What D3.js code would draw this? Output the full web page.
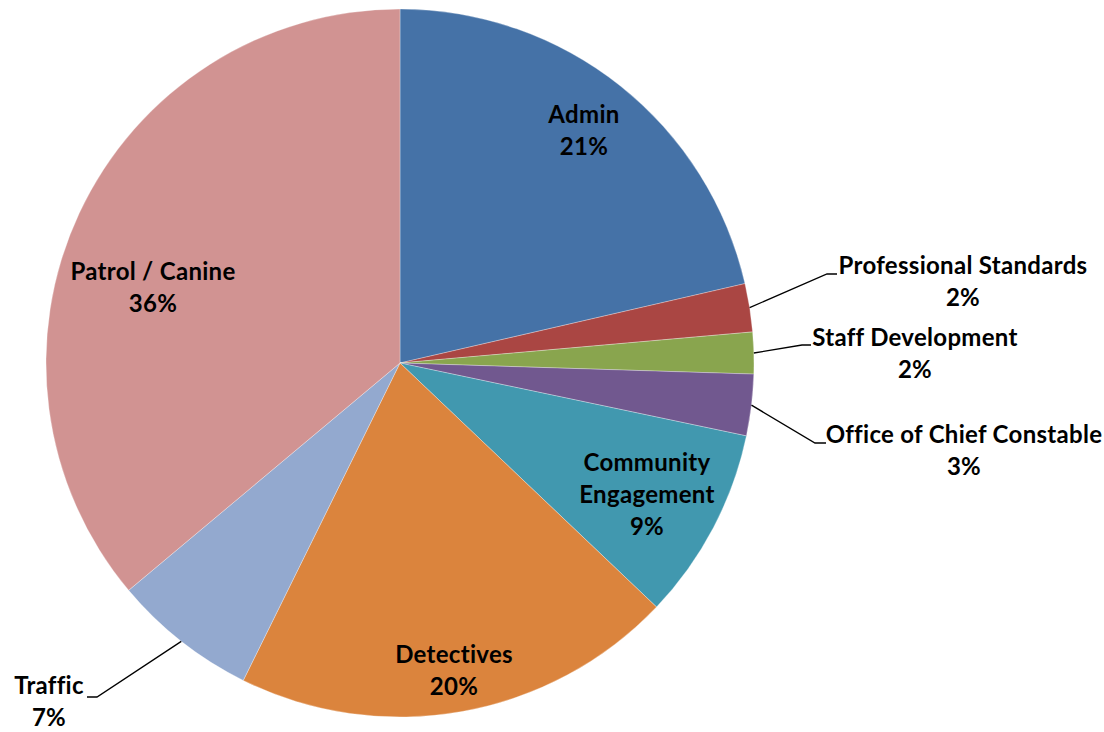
<!DOCTYPE html>
<html>
<head>
<meta charset="utf-8">
<script src="https://cdn.jsdelivr.net/npm/d3@7/dist/d3.min.js"></script>
<style>
  body { margin: 0; background: #fff; }
  text { font-family: Lato, "Open Sans", sans-serif; font-weight: bold; font-size: 24px; letter-spacing: 0.3px; fill: #000; }
</style>
</head>
<body>
<script>
  // slice data, clockwise from 12 o'clock
  const names = ["Admin", "Professional Standards", "Staff Development", "Office of Chief Constable",
                 "Community Engagement", "Detectives", "Traffic", "Patrol / Canine"];
  const shares = [21.4, 2.2, 1.9, 2.8, 8.8, 20.2, 6.6, 36.1];
  const pctLabels = ["21%", "2%", "2%", "3%", "9%", "20%", "7%", "36%"];
  const colors = ["#4572A7", "#AA4643", "#89A54E", "#71588F", "#4198AF", "#DB843D", "#93A9CF", "#D19392"];

  const width = 1104, height = 732;
  const cx = 400, cy = 363, radius = 354;

  // label placement (text block centre, line breaks) and leader elbows for outside labels
  const labelLayout = {
    "Admin": {x: 584, y: 131, lines: ["Admin"]},
    "Professional Standards": {x: 963, y: 282, lines: ["Professional Standards"], elbow: [827, 274], end: [837, 274]},
    "Staff Development": {x: 915, y: 354, lines: ["Staff Development"], elbow: [802, 345], end: [811, 345]},
    "Office of Chief Constable": {x: 964, y: 451, lines: ["Office of Chief Constable"], elbow: [815, 443], end: [826, 443]},
    "Community Engagement": {x: 647, y: 495, lines: ["Community", "Engagement"]},
    "Detectives": {x: 454, y: 671, lines: ["Detectives"]},
    "Traffic": {x: 49, y: 702, lines: ["Traffic"], elbow: [97, 697], end: [87, 697]},
    "Patrol / Canine": {x: 153, y: 288, lines: ["Patrol / Canine"]}
  };

  const data = names.map(function(n, i) {
    return {name: n, value: shares[i], pct: pctLabels[i], color: colors[i]};
  });

  const svg = d3.select('body')
    .append('svg')
    .attr('width', width)
    .attr('height', height);

  const g = svg.append('g')
    .attr('transform', 'translate(' + cx + ',' + cy + ')');

  const pie = d3.pie()
    .sort(null)
    .value(function(d) { return d.value; });

  const arc = d3.arc()
    .innerRadius(0)
    .outerRadius(radius);

  const arcs = pie(data);

  g.selectAll('.slice')
    .data(arcs)
    .enter().append('path')
      .attr('class', 'slice')
      .attr('d', arc)
      .attr('fill', function(d) { return d.data.color; })
      .attr('stroke', '#ffffff')
      .attr('stroke-width', 0.5)
      .attr('stroke-opacity', 0.6);

  // leader lines: from the slice's outer edge midpoint to the elbow, then flat
  arcs.forEach(function(d) {
    const lay = labelLayout[d.data.name];
    if (!lay.elbow) return;
    const mid = (d.startAngle + d.endAngle) / 2;
    const sx = cx + radius * Math.sin(mid);
    const sy = cy - radius * Math.cos(mid);
    svg.append('polyline')
      .attr('points', [[sx, sy], lay.elbow, lay.end].map(function(p) { return p.join(','); }).join(' '))
      .attr('fill', 'none')
      .attr('stroke', '#000')
      .attr('stroke-width', 1.3);
  });

  const lineH = 32;
  arcs.forEach(function(d) {
    const lay = labelLayout[d.data.name];
    const lines = lay.lines.concat([d.data.pct]);
    const top = lay.y - (lines.length - 1) * lineH / 2;
    const t = svg.append('text')
      .attr('text-anchor', 'middle');
    lines.forEach(function(l, i) {
      t.append('tspan')
        .attr('x', lay.x)
        .attr('y', top + i * lineH)
        .attr('dy', '0.35em')
        .text(l);
    });
  });
</script>
</body>
</html>
